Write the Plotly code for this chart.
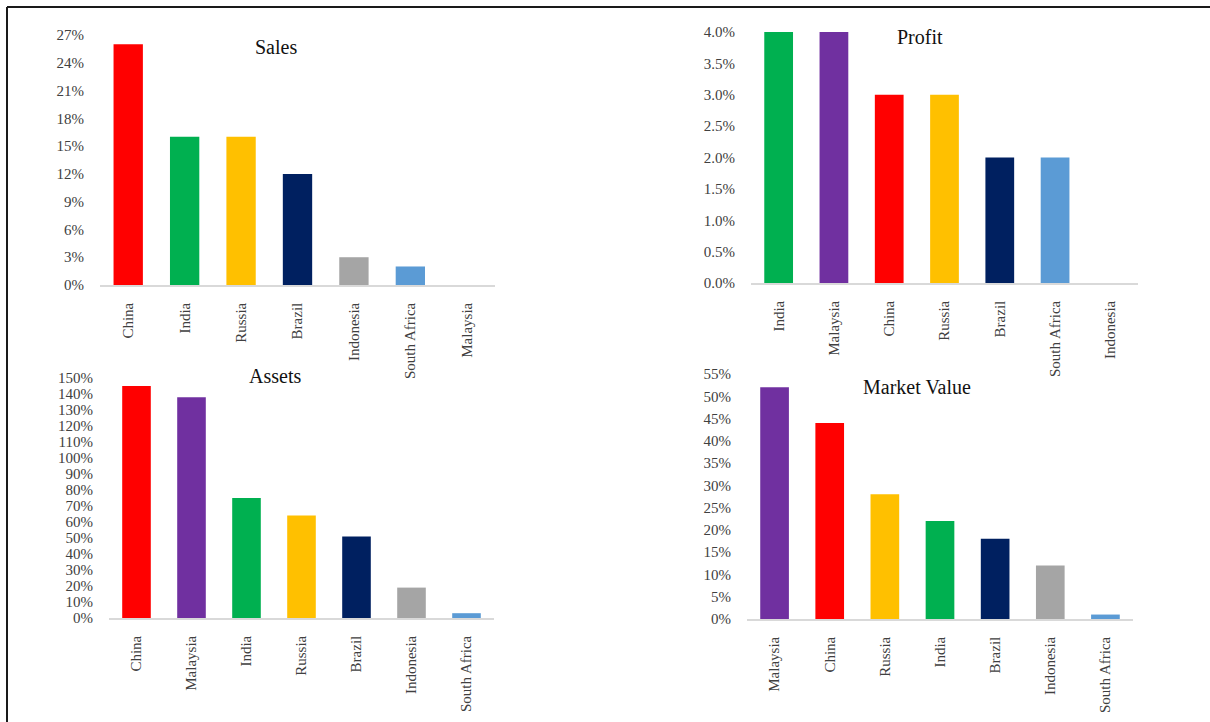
import plotly.graph_objects as go

W, H = 1210, 722

colors = {
    "China": "#FF0000", "India": "#00B050", "Russia": "#FFC000", "Brazil": "#002060",
    "Indonesia": "#A5A5A5", "South Africa": "#5B9BD5", "Malaysia": "#7030A0",
}

sales_cats = ["China", "India", "Russia", "Brazil", "Indonesia", "South Africa", "Malaysia"]
sales_vals = [0.26, 0.16, 0.16, 0.12, 0.03, 0.02, 0.0]

profit_cats = ["India", "Malaysia", "China", "Russia", "Brazil", "South Africa", "Indonesia"]
profit_vals = [0.04, 0.04, 0.03, 0.03, 0.02, 0.02, 0.0]

assets_cats = ["China", "Malaysia", "India", "Russia", "Brazil", "Indonesia", "South Africa"]
assets_vals = [1.45, 1.38, 0.75, 0.64, 0.51, 0.19, 0.03]

mv_cats = ["Malaysia", "China", "Russia", "India", "Brazil", "Indonesia", "South Africa"]
mv_vals = [0.52, 0.44, 0.28, 0.22, 0.18, 0.12, 0.01]

panels = [
    # name, cats, vals, pixel box (x0, x1, ytop, ybot), yrange, dtick, fmt, title pos
    ("Sales", sales_cats, sales_vals, (100, 495, 35, 285), 0.27, 0.03, ".0%", (276, 47)),
    ("Profit", profit_cats, profit_vals, (751, 1138, 32, 283), 0.04, 0.005, ".1%", (920, 37)),
    ("Assets", assets_cats, assets_vals, (109, 494, 378, 618), 1.5, 0.1, ".0%", (275, 376)),
    ("Market Value", mv_cats, mv_vals, (747, 1133, 374, 619), 0.55, 0.05, ".0%", (917, 387)),
]


def px(x):
    return x / W


def py(y):
    return 1 - y / H


FONT = "Liberation Serif"
TXT = "#404040"

fig = go.Figure()
annotations = []
for i, (name, cats, vals, box, ymax, dtick, fmt, tpos) in enumerate(panels, start=1):
    x0, x1, yt, yb = box
    xa = "x" if i == 1 else f"x{i}"
    ya = "y" if i == 1 else f"y{i}"
    fig.add_trace(go.Bar(
        x=cats, y=vals, xaxis=xa, yaxis=ya,
        marker=dict(color=[colors[c] for c in cats], line=dict(width=0)),
        showlegend=False, hoverinfo="x+y",
    ))
    xkey = "xaxis" if i == 1 else f"xaxis{i}"
    ykey = "yaxis" if i == 1 else f"yaxis{i}"
    fig.layout[xkey] = dict(
        domain=[px(x0), px(x1)], anchor=ya, type="category", automargin=False,
        range=[-0.5, 6.5], showline=True, linecolor="#D9D9D9", linewidth=1.5,
        showgrid=False, zeroline=False, tickangle=-90,
        ticks="outside", ticklen=10, tickcolor="rgba(0,0,0,0)",
        tickfont=dict(family=FONT, size=15, color=TXT), fixedrange=True,
    )
    fig.layout[ykey] = dict(
        domain=[py(yb), py(yt)], anchor=xa, range=[0, ymax], automargin=False,
        dtick=dtick, tick0=0, tickformat=fmt, showline=False, showgrid=False,
        zeroline=False, ticks="outside", ticklen=12, tickcolor="rgba(0,0,0,0)",
        tickfont=dict(family=FONT, size=15, color=TXT), fixedrange=True,
    )
    annotations.append(dict(
        text=name, x=px(tpos[0]), y=py(tpos[1]), xref="paper", yref="paper",
        xanchor="center", yanchor="middle", showarrow=False,
        font=dict(family=FONT, size=20, color="#111111"),
    ))

fig.update_layout(
    width=W, height=H, margin=dict(l=0, r=0, t=0, b=0, pad=0, autoexpand=False),
    paper_bgcolor="white", plot_bgcolor="white", bargap=0.48,
    annotations=annotations,
    shapes=[
        dict(type="line", xref="paper", yref="paper", x0=px(7), x1=1, y0=py(7), y1=py(7),
             line=dict(color="#1a1a1a", width=2)),
        dict(type="line", xref="paper", yref="paper", x0=px(7), x1=px(7), y0=0, y1=py(7),
             line=dict(color="#1a1a1a", width=2)),
    ],
)

fig.write_html(
    "out.html",
    config={"displayModeBar": False},
    post_script="document.body.style.margin='0';document.body.style.overflow='hidden';",
)
